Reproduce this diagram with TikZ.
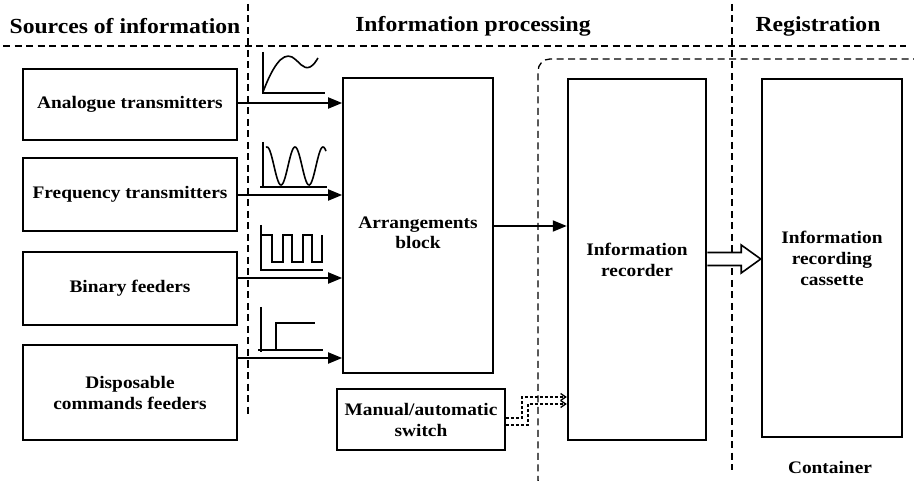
\documentclass[tikz,border=0pt]{standalone}
\usepackage{fontspec}
\setmainfont{Liberation Serif}[FakeStretch=1.1]
\usetikzlibrary{arrows.meta,calc}
\tikzset{
  blk/.style={draw, line width=1.7pt, align=center, inner sep=0pt,
    font=\bfseries\fontsize{17.6}{21}\selectfont},
  heavy/.style={blk, line width=2.5pt},
  hdr/.style={font=\bfseries\fontsize{21.5}{24}\selectfont, inner sep=0pt},
  sep/.style={dashed, dash pattern=on 7pt off 4.5pt, line width=1.3pt},
  feed/.style={line width=1.9pt, -{Triangle[length=14pt,width=11pt]}},
  sig/.style={line width=1.6pt},
  ctl/.style={densely dashed, dash pattern=on 3pt off 2pt, line width=1.3pt, -{Straight Barb[length=5pt,width=7pt]}},
}
\begin{document}
\begin{tikzpicture}[x=1pt,y=-1pt]
\useasboundingbox (0,0) rectangle (914,481);
% headers
\node[hdr] (h1) at (125,26) {Sources of information};
\node[hdr] (h2) at (473,26) {Information processing};
\node[hdr] (h3) at (818,26) {Registration};
% separators
\coordinate (s1a) at (3,46); \coordinate (s1b) at (906,46);
\draw[sep] (s1a) -- (s1b);
\coordinate (v1a) at (248,4); \coordinate (v1b) at (248,416);
\draw[sep] (v1a) -- (v1b);
\coordinate (v2a) at (732,4); \coordinate (v2b) at (732,470);
\draw[sep] (v2a) -- (v2b);
% container outline
\coordinate (c1) at (920,59); \coordinate (c2) at (538,59); \coordinate (c3) at (538,492); \coordinate (c4) at (560,492);
\draw[sep, rounded corners=12pt] (c1) -- (c2) -- (c3) -- (c4);
% source boxes
\node[blk, minimum width=214pt, minimum height=71pt] (an) at (130,104.5) {Analogue transmitters};
\node[blk, minimum width=214pt, minimum height=73pt] (fr) at (130,194.5) {Frequency transmitters};
\node[blk, minimum width=214pt, minimum height=73pt] (bi) at (130,288.5) {Binary feeders};
\node[blk, minimum width=214pt, minimum height=95pt] (di) at (130,392.5) {Disposable\\commands feeders};
% processing
\node[blk, minimum width=150pt, minimum height=295pt] (ar) at (418,225.5) {};
\node[blk, draw=none, font=\bfseries\fontsize{17.6}{20}\selectfont] (art) at (418,233) {Arrangements\\block};
\node[blk, minimum width=168pt, minimum height=61pt] (sw) at (421,419.5) {Manual/automatic\\switch};
% registration
\node[heavy, minimum width=138pt, minimum height=361pt] (re) at (637,259.5) {Information\\recorder};
\node[heavy, minimum width=140pt, minimum height=358pt] (ca) at (832,258) {Information\\recording\\cassette};
\node[hdr, font=\bfseries\fontsize{17.6}{20}\selectfont] (ct) at (830,467) {Container};
% feed arrows
\draw[feed] (an.east |- 0,103) -- (ar.west |- 0,103);
\draw[feed] (fr.east |- 0,195) -- (ar.west |- 0,195);
\draw[feed] (bi.east |- 0,278) -- (ar.west |- 0,278);
\draw[feed] (di.east |- 0,358) -- (ar.west |- 0,358);
\draw[feed] (ar.east |- 0,226) -- (re.west |- 0,226);
% hollow arrow recorder -> cassette
\coordinate (ha) at (re.east |- 0,259);
\coordinate (hb) at (ca.west |- 0,259);
\draw[line width=1.6pt, fill=white, line join=miter]
  ($(ha)+(0,-6.5)$) -- ++(34,0) -- ++(0,-7.5) -- (hb) -- ($(ha)+(34,14)$) -- ++(0,-7.5) -- ($(ha)+(0,6.5)$);
% control dotted arrow
\coordinate (k1) at (sw.east |- 0,418);
\coordinate (k2) at (sw.east |- 0,425);
\draw[ctl] (k1) -- (522,418) -- (522,397) -- (re.west |- 0,397);
\draw[ctl] (k2) -- (528,425) -- (528,404) -- (re.west |- 0,404);
% signal icons
% 1: analog
\draw[sig] (263,52) -- (263,93) -- (325,93);
\draw[sig] (263,92) .. controls (272,68) and (282,52) .. (292,57) .. controls (300,62) and (303,70) .. (310,67) .. controls (314,65) and (316,61) .. (318,58);
% 2: sine
\draw[sig] (263,142) -- (263,187);
\draw[sig] (260,187) -- (327,187);
\draw[sig, domain=0:60, samples=80, smooth] plot ({266+\x}, {166-19*cos(12.857*(\x-1))});
% 3: square
\draw[sig] (261,225) -- (261,270) -- (323,270);
\draw[sig] (261,235) -- (272,235) -- (272,262) -- (283,262) -- (283,235) -- (292,235) -- (292,262) -- (303,262) -- (303,235) -- (312,235) -- (312,262) -- (322,262) -- (322,235);
% 4: step
\draw[sig] (261,307) -- (261,352);
\draw[sig] (258,350) -- (323,350);
\draw[sig] (276,350) -- (276,323) -- (315,323);
\end{tikzpicture}
\end{document}
